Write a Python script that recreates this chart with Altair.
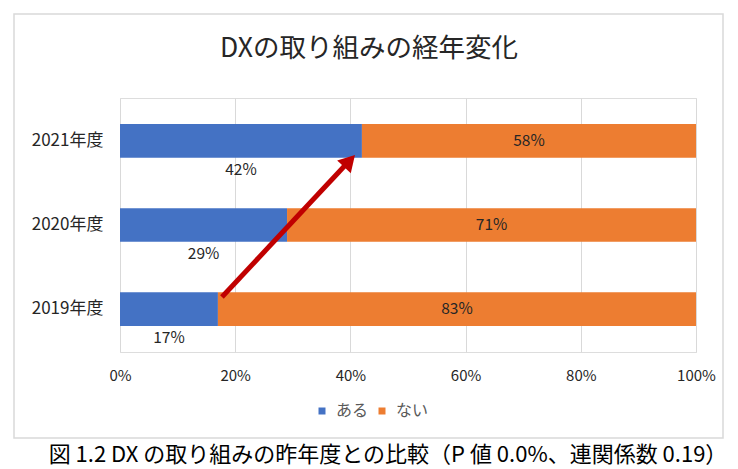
import altair as alt
import pandas as pd

FONT = "Noto Sans CJK JP"
BLUE = "#4472C4"
ORANGE = "#ED7D31"
ARROW_RED = "#C00000"

# data
years = ["2021年度", "2020年度", "2019年度"]
answers = ["ある", "ない"]
aru = [42, 29, 17]
nai = [58, 71, 83]

title_text = "DXの取り組みの経年変化"
caption_text = "図 1.2 DX の取り組みの昨年度との比較（P 値 0.0%、連関係数 0.19）"

# arrow: from end of 2019 "ある" bar to end of 2021 "ある" bar (x in %)
arrow_x = [17.7, 39.3]
arrow_head_x = [39.84]

rows = []
for y, a, n in zip(years, aru, nai):
    rows.append({"year": y, "answer": "ある", "value": a, "order": 0, "mid": a / 2})
    rows.append({"year": y, "answer": "ない", "value": n, "order": 1, "mid": a + n / 2})
df = pd.DataFrame(rows)

one = pd.DataFrame({"k": [0]})

y_enc = alt.Y(
    "year:N",
    sort=years,
    title=None,
    scale=alt.Scale(paddingInner=0.6, paddingOuter=0.31),
    axis=alt.Axis(ticks=False, domain=False, labelPadding=17, labelFontSize=17,
                  labelColor="#262626", labelFont=FONT),
)

x_enc = alt.X(
    "sum(value):Q",
    stack="zero",
    title=None,
    scale=alt.Scale(domain=[0, 100], nice=False),
    axis=alt.Axis(values=[0, 20, 40, 60, 80, 100], labelExpr="datum.value + '%'",
                  grid=True, gridColor="#D9D9D9", domain=False, ticks=False,
                  labelFlush=False, labelOverlap=False,
                  labelPadding=16, labelFontSize=15, labelColor="#262626", labelFont=FONT),
)

bars = alt.Chart(df).mark_bar().encode(
    x=x_enc,
    y=y_enc,
    color=alt.Color(
        "answer:N",
        scale=alt.Scale(domain=answers, range=[BLUE, ORANGE]),
        legend=alt.Legend(
            title=None, orient="none", direction="horizontal",
            legendX=194, legendY=305, symbolType="square", symbolSize=49,
            symbolStrokeWidth=0, labelFontSize=16, labelColor="#595959",
            labelFont=FONT, labelOffset=6, columnPadding=5,
        ),
    ),
    order=alt.Order("order:Q"),
)

aru_labels = alt.Chart(df[df.answer == "ある"]).mark_text(
    dy=29, fontSize=15.5, font=FONT, color="#262626"
).transform_calculate(lbl="datum.value + '%'").encode(
    x=alt.X("mid:Q"),
    y=alt.Y("year:N", sort=years),
    text="lbl:N",
)

nai_labels = alt.Chart(df[df.answer == "ない"]).mark_text(
    fontSize=15.5, font=FONT, color="#262626"
).transform_calculate(lbl="datum.value + '%'").encode(
    x=alt.X("mid:Q"),
    y=alt.Y("year:N", sort=years),
    text="lbl:N",
)

arrow_df = pd.DataFrame({"x0": [arrow_x[0]], "x1": [arrow_x[1]]})
arrow_line = alt.Chart(arrow_df).mark_rule(
    color=ARROW_RED, strokeWidth=5, strokeCap="butt"
).encode(
    x="x0:Q", x2="x1:Q", y=alt.value(199), y2=alt.value(66),
)
arrow_head = alt.Chart(pd.DataFrame({"x": arrow_head_x})).mark_point(
    shape="triangle-up", size=346, filled=True, opacity=1,
    color=ARROW_RED, angle=43,
).encode(x="x:Q", y=alt.value(62.9))

border = alt.Chart(one).mark_rect(
    fillOpacity=0, stroke="#D9D9D9", strokeWidth=1.5
).encode(x=alt.value(-106), x2=alt.value(603), y=alt.value(-84), y2=alt.value(340))

title = alt.Chart(one).mark_text(
    text=title_text, fontSize=26.5, font=FONT, color="#262626", baseline="middle"
).encode(x=alt.value(249), y=alt.value(-49))

caption = alt.Chart(one).mark_text(
    text=caption_text, fontSize=22, font=FONT, color="#000000", baseline="middle"
).encode(x=alt.value(268), y=alt.value(357))

chart = alt.layer(
    border, bars, aru_labels, nai_labels, arrow_line, arrow_head, title, caption
).properties(
    width=576,
    height=254,
    autosize=alt.AutoSizeParams(type="none"),
    padding={"left": 112, "top": 90, "right": 34, "bottom": 116},
).configure_view(
    stroke=None
).configure(
    background="white"
)

chart.save("out.html", embed_options={"renderer": "svg", "actions": False})
